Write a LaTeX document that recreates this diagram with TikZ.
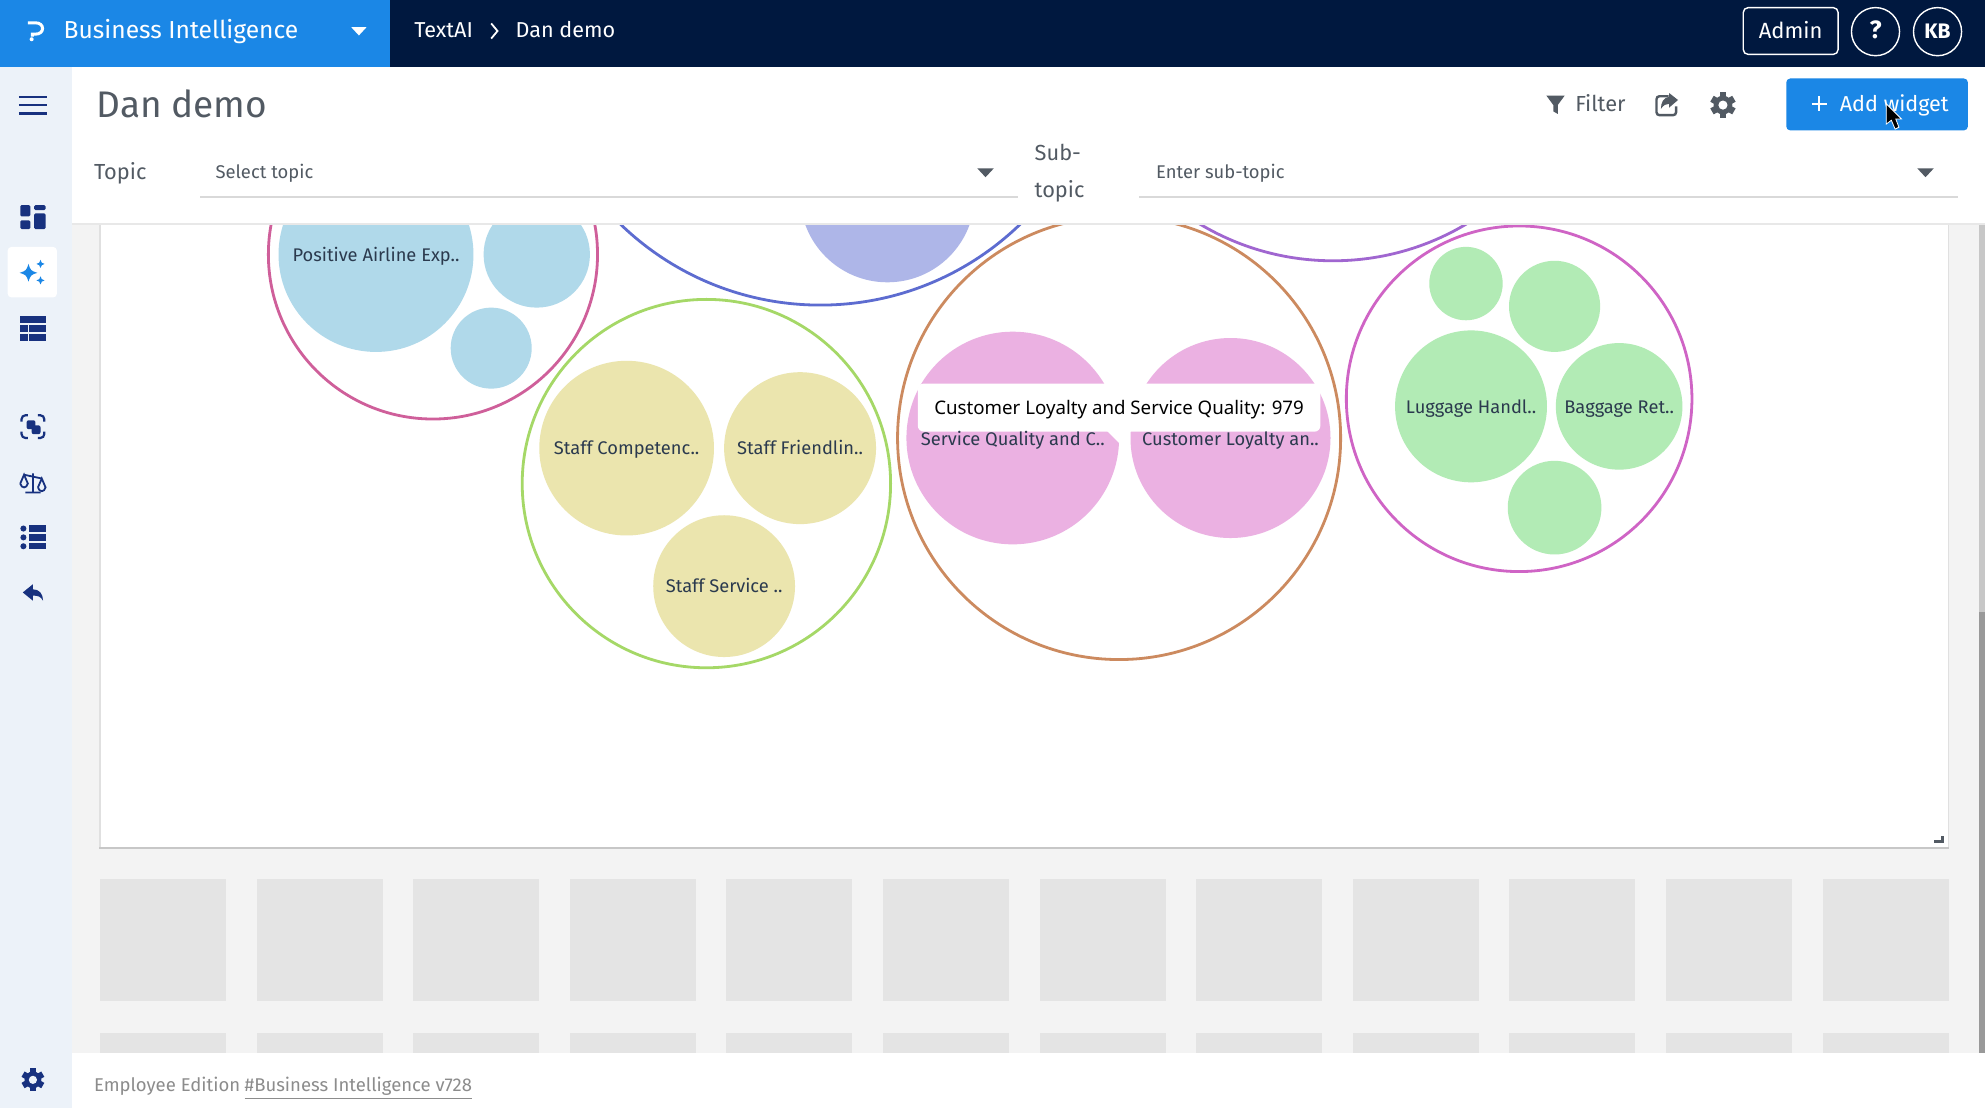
\documentclass[tikz,border=0pt]{standalone}
\usepackage{fontspec}
\setmainfont{Fira Sans}
\newfontfamily\tipfont{Noto Sans}
\definecolor{BrandClr}{HTML}{1B87E6}
\definecolor{NavyClr}{HTML}{00183F}
\definecolor{SideClr}{HTML}{ECF2F9}
\definecolor{IconClr}{HTML}{17317F}
\definecolor{PageClr}{HTML}{F3F3F3}
\definecolor{TileClr}{HTML}{E4E4E4}
\definecolor{TitleClr}{HTML}{525A63}
\definecolor{LabelClr}{HTML}{2B3A4E}
\definecolor{SkyClr}{HTML}{B0D9EA}
\definecolor{RoseRingClr}{HTML}{CF5F9A}
\definecolor{IndigoRingClr}{HTML}{5D6CD0}
\definecolor{IndigoClr}{HTML}{AEB6E8}
\definecolor{PurpleRingClr}{HTML}{A066D0}
\definecolor{LimeRingClr}{HTML}{A5D867}
\definecolor{SandClr}{HTML}{EBE5AE}
\definecolor{OrangeRingClr}{HTML}{CC8A5F}
\definecolor{OrchidClr}{HTML}{EBB1E2}
\definecolor{MagentaRingClr}{HTML}{CF64C5}
\definecolor{MintClr}{HTML}{B2EBB5}
\tikzset{
  ring/.style={line width=1.4pt,fill=white},
  evenline/.style={text height=7pt,text depth=.5pt,inner sep=0pt},
  bubbletext/.style={evenline,text=LabelClr,font=\fontsize{9.15}{11}\selectfont},
  bartext/.style={evenline,text=white,font=\fontsize{11}{13}\selectfont},
  fieldtext/.style={evenline,text=TitleClr,font=\fontsize{9.2}{11}\selectfont,anchor=west},
  headtext/.style={evenline,text=TitleClr,font=\fontsize{10.9}{13}\selectfont},
  foottext/.style={evenline,anchor=west,text=black!45,font=\fontsize{9.25}{11}\selectfont},
}
\newcommand{\DrawGear}[5]{%
  \fill[#4] (#1,#2) circle [radius=#3*.74];
  \foreach \a in {0,60,...,300}
    \fill[#4,rotate around={\a:(#1,#2)}] (#1-#3*.27,#2-#3) rectangle (#1+#3*.27,#2-#3*.5);
  \fill[#5] (#1,#2) circle [radius=#3*.36];
}
\newcommand{\DrawStar}[3]{%
  \fill[BrandClr] (#1+#3,#2) .. controls (#1+.25*#3,#2-.25*#3) .. (#1,#2-#3)
    .. controls (#1-.25*#3,#2-.25*#3) .. (#1-#3,#2)
    .. controls (#1-.25*#3,#2+.25*#3) .. (#1,#2+#3)
    .. controls (#1+.25*#3,#2+.25*#3) .. cycle;
}
\begin{document}
\begin{tikzpicture}[x=0.633pt,y=-0.633pt]
\useasboundingbox (0,0) rectangle (1568,875);

\fill[PageClr] (0,0) rectangle (1568,875);

\foreach \i in {0,...,11} {
  \fill[TileClr] (79+\i*123.7,694) rectangle ++(99.5,97);
  \fill[TileClr] (79+\i*123.7,816) rectangle ++(99.5,16);
}

\fill[white] (79,177) rectangle (1539,670);
\draw[color=black!12,line width=.8pt] (79,177) -- (79,670) (1539,670) -- (1539,177);
\draw[color=black!22,line width=.9pt] (78.5,670) -- (1539.5,670);
\draw[color=TitleClr,line width=1.3pt] (1528,664.5) -- (1534.5,664.5) -- (1534.5,660);

\begin{scope}
\clip (80,177) rectangle (1538,669);
\draw[ring,draw=RoseRingClr] (342,201) circle [radius=130];
\foreach \cx/\cy/\rr in {297/201/77,424/201/42,388/275/32}
  \fill[SkyClr] (\cx,\cy) circle [radius=\rr];
\draw[ring,draw=PurpleRingClr] (1053,1) circle [radius=205];
\draw[ring,draw=IndigoRingClr] (648,14) circle [radius=227];
\fill[IndigoClr] (701,154) circle [radius=69];
\draw[ring,draw=LimeRingClr] (558,382) circle [radius=145.5];
\foreach \cx/\cy/\rr in {495/354/69,632/354/60,572/463/56}
  \fill[SandClr] (\cx,\cy) circle [radius=\rr];
\draw[ring,draw=OrangeRingClr] (884,346) circle [radius=175];
\foreach \cx/\cy/\rr in {800/346/84,972/346/79}
  \fill[OrchidClr] (\cx,\cy) circle [radius=\rr];
\draw[ring,draw=MagentaRingClr] (1200,315) circle [radius=136.5];
\foreach \cx/\cy/\rr in {1158/224/29,1228/242/36,1162/321/60,1279/321/50,1228/401/37}
  \fill[MintClr] (\cx,\cy) circle [radius=\rr];
\end{scope}

\fill[white,rounded corners=3pt] (725,303) rectangle (1043,341);
\fill[white] (874,340) -- (894,340) -- (884,350) -- cycle;
\node[evenline,text=black,font=\tipfont\fontsize{9.35}{11}\selectfont] (tooltip) at (884,322.5) {Customer Loyalty and Service Quality: 979};

\node[bubbletext] (airline) at (297,201.5) {Positive Airline Exp..};
\node[bubbletext] (competence) at (495,354) {Staff Competenc..};
\node[bubbletext] (friendly) at (632,354) {Staff Friendlin..};
\node[bubbletext] (service) at (572,463) {Staff Service ..};
\node[bubbletext] (quality) at (800,346.5) {Service Quality and C..};
\node[bubbletext] (loyalty) at (972,346.5) {Customer Loyalty an..};
\node[bubbletext] (luggage) at (1162,321.5) {Luggage Handl..};
\node[bubbletext] (baggage) at (1279,321.5) {Baggage Ret..};

\fill[white] (57,53) rectangle (1568,177);
\draw[color=black!9,line width=1pt] (57,177) -- (1568,177);
\fill[black!22] (1563,177.5) rectangle (1568,483.5);
\fill[black!40] (1563,483.5) rectangle (1568,832);
\fill[white] (57,832) rectangle (1568,875);

\fill[NavyClr] (0,0) rectangle (1568,53);
\fill[BrandClr] (0,0) rectangle (308,53);
\draw[white,line width=1.5pt] (22,18) -- (28,18) .. controls (35.5,18) and (35.5,27) .. (28,27) -- (25.5,27) -- (25.5,29);
\fill[white] (25,31) circle [radius=1.6];
\node[bartext,anchor=west,font=\fontsize{12.3}{15}\selectfont] (product) at (50,25) {Business Intelligence};
\fill[white] (277.5,21.5) -- (289.5,21.5) -- (283.5,28) -- cycle;
\node[bartext,anchor=west,font=\fontsize{10.8}{13}\selectfont] (textai) at (327,24.5) {TextAI};
\draw[white,line width=.9pt] (388,18.5) -- (393,24.5) -- (388,30.5);
\node[bartext,anchor=west,font=\fontsize{10.8}{13}\selectfont] (demo) at (407,24.5) {Dan demo};

\draw[white,line width=.7pt,rounded corners=2.5pt] (1377,6) rectangle (1452,43);
\node[bartext] (admin) at (1414.5,25) {Admin};
\draw[white,line width=.7pt] (1481.5,25) circle [radius=19];
\node[bartext,font=\bfseries\fontsize{12.5}{14}\selectfont] (help) at (1481.5,25) {?};
\draw[white,line width=.7pt] (1530.5,25) circle [radius=19];
\node[bartext,font=\bfseries\fontsize{10.5}{13}\selectfont] (user) at (1530.5,25) {KB};

\fill[SideClr] (0,53) rectangle (57,875);
\foreach \yy in {76.5,83,89.5}
  \draw[IconClr,line width=1.3pt] (15,\yy) -- (37,\yy);
\begin{scope}[fill=IconClr,rounded corners=.7pt]
\fill (16,162) rectangle (24,171);
\fill (16,174) rectangle (24,181);
\fill (27,162) rectangle (36,166);
\fill (27,168.5) rectangle (36,181);
\end{scope}
\fill[white,rounded corners=2pt] (6,195) rectangle (45,235);
\DrawStar{22.5}{215.5}{7}
\DrawStar{32}{208.5}{3.2}
\DrawStar{32}{221.5}{3.2}
\foreach \yy in {250,257,263.5}
  \fill[IconClr] (16,\yy) rectangle (36,\yy+5.5);
\draw[SideClr,line width=.6pt] (22.5,257) -- (22.5,269);
\draw[IconClr,line width=1.1pt,rounded corners=2pt] (17,333) -- (17,328) -- (22,328);
\draw[IconClr,line width=1.1pt,rounded corners=2pt] (30,328) -- (35,328) -- (35,333);
\draw[IconClr,line width=1.1pt,rounded corners=2pt] (35,341) -- (35,346) -- (30,346);
\draw[IconClr,line width=1.1pt,rounded corners=2pt] (22,346) -- (17,346) -- (17,341);
\fill[IconClr,rounded corners=1pt] (21,332) rectangle (28,339);
\fill[IconClr,rounded corners=1pt] (25,336) rectangle (32,343);
\draw[IconClr,line width=.9pt] (26,374) -- (26,389) (20,389) -- (32,389) (19,375) -- (33,378);
\draw[IconClr,line width=.9pt] (16,382) -- (19,375) -- (22,382) .. controls (21,386) and (17,386) .. (16,382);
\draw[IconClr,line width=.9pt] (30,385) -- (33,378) -- (36,385) .. controls (35,389) and (31,389) .. (30,385);
\foreach \yy in {417.5,424.5,431.5} {
  \fill[IconClr] (18.5,\yy) circle [radius=2.4];
  \fill[IconClr] (23,\yy-2.5) rectangle (36,\yy+2.5);
}
\fill[IconClr] (18,468) -- (26,461.5) -- (26,465.5) .. controls (31,465.5) and (34,469) .. (34,474.5) .. controls (32,471) and (30,470.5) .. (26,470.5) -- (26,474.5) -- cycle;
\DrawGear{26}{853}{9}{IconClr}{SideClr}

\node[headtext,anchor=west,font=\fontsize{18.5}{22}\selectfont,text height=13pt,text depth=.5pt] (title) at (76,83) {Dan demo};
\node[headtext,anchor=west] (topic) at (74,136.5) {Topic};
\node[fieldtext] (topicfield) at (170,135.5) {Select topic};
\draw[black!15,line width=.8pt] (158,155.5) -- (804,155.5);
\fill[TitleClr] (772,133) -- (785,133) -- (778.5,140) -- cycle;
\node[headtext,anchor=west] (sub) at (817,121.5) {Sub-};
\node[headtext,anchor=west] (subb) at (817,150.5) {topic};
\node[fieldtext] (subfield) at (913,135.5) {Enter sub-topic};
\draw[black!15,line width=.8pt] (900,155.5) -- (1547,155.5);
\fill[TitleClr] (1514.5,133) -- (1527.5,133) -- (1521,140) -- cycle;

\fill[TitleClr] (1221.5,75.5) -- (1236,75.5) -- (1230.5,83) -- (1230.5,90) -- (1227,88) -- (1227,83) -- cycle;
\node[headtext,anchor=west] (filter) at (1244,83) {Filter};
\draw[TitleClr,line width=1.2pt,rounded corners=1.5pt] (1318,76) -- (1308.5,76) -- (1308.5,91) -- (1324,91) -- (1324,84);
\fill[TitleClr] (1325.5,79) -- (1318.5,73.5) -- (1318.5,76.5) .. controls (1314,77) and (1312,81) .. (1312,86) .. controls (1314,83) and (1316,82) .. (1318.5,82) -- (1318.5,85) -- cycle;
\DrawGear{1361}{83}{10}{TitleClr}{white}

\fill[BrandClr,rounded corners=2pt] (1411,62) rectangle (1554.5,103);
\draw[white,line width=1pt] (1431,82) -- (1443,82) (1437,76) -- (1437,88);
\node[bartext,anchor=west,font=\fontsize{10.8}{13}\selectfont] (addwidget) at (1453,83) {Add widget};
\fill[black,draw=white,line width=.4pt] (1490,82) -- (1490,98) -- (1494,95) -- (1497,102) -- (1500,100.5) -- (1497.5,94) -- (1502,94) -- cycle;

\node[foottext] (edition) at (74,857) {Employee Edition};
\node[foottext] (version) at (193,857) {\underline{\#Business Intelligence v728}};
\end{tikzpicture}
\end{document}
